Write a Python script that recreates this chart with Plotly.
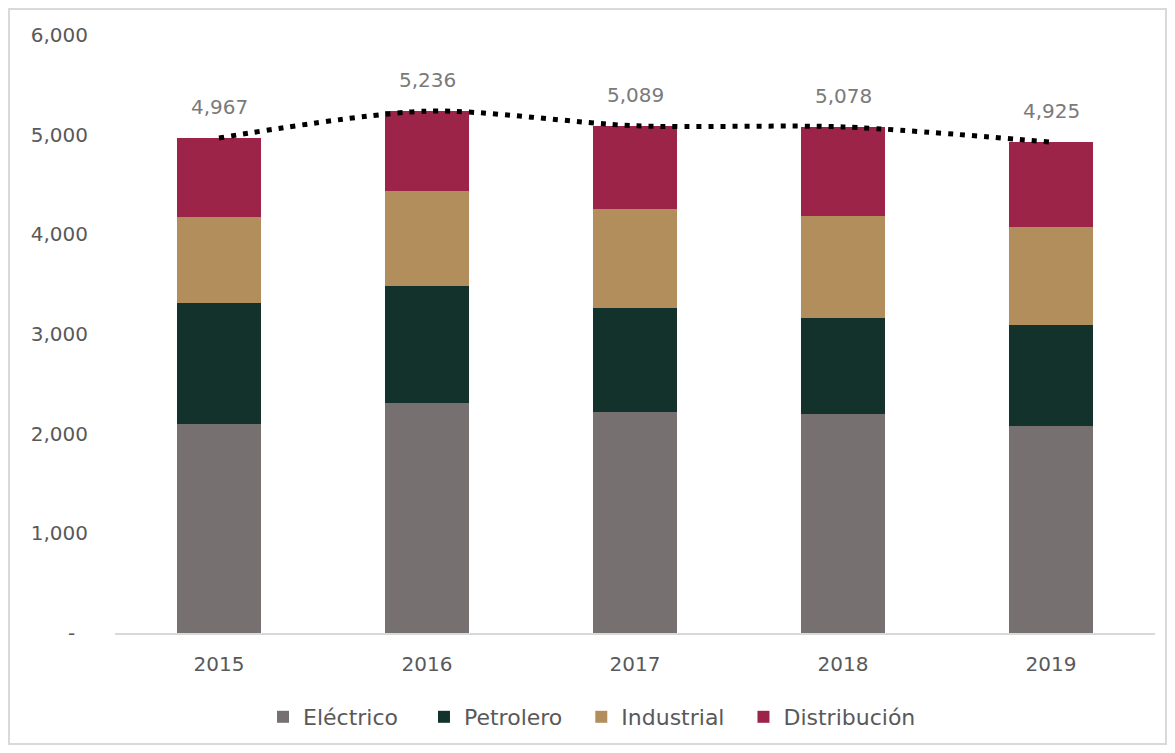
import plotly.graph_objects as go

years = ["2015", "2016", "2017", "2018", "2019"]
electrico = [2096, 2307, 2217, 2197, 2076]
petrolero = [1214, 1173, 1043, 962, 1013]
industrial = [862, 953, 993, 1023, 983]
distribucion = [795, 803, 836, 896, 853]
totales = [4967, 5236, 5089, 5078, 4925]

series = [
    ("Eléctrico", electrico, "#767170", 3),
    ("Petrolero", petrolero, "#13322B", 2),
    ("Industrial", industrial, "#B38E5D", 2),
    ("Distribución", distribucion, "#9D2449", 0),
]

W, H = 1159, 737
ml, mr, mt, mb = 107, 12, 27, 112
font_family = "DejaVu Sans, Open Sans, sans-serif"
gray = "#595959"
label_gray = "#7A7A7A"

fig = go.Figure()
for name, vals, col, pad in series:
    fig.add_trace(go.Bar(x=years, y=vals, name=name + "\u00a0" * pad,
                         marker=dict(color=col, line=dict(width=0))))

fig.add_trace(go.Scatter(x=years, y=totales, mode="lines", showlegend=False,
                         line=dict(color="black", width=5, dash="5px,7px", shape="spline", smoothing=0.8),
                         hoverinfo="skip"))

for i, t in enumerate(totales):
    fig.add_annotation(x=i, y=t, text=f"{t:,}", showarrow=False, yshift=31,
                       font=dict(size=20, color=label_gray, family=font_family))

pw = W - ml - mr
ph = H - mt - mb
x0 = (1 - ml) / pw
x1 = (W - 1 - ml) / pw
y1 = 1 + (mt - 1) / ph
y0 = -(mb - 1) / ph
fig.add_shape(type="rect", xref="paper", yref="paper", x0=x0, x1=x1, y0=y0, y1=y1,
              line=dict(color="#D9D9D9", width=2), layer="below")

fig.update_layout(
    width=W, height=H,
    margin=dict(l=ml, r=mr, t=mt, b=mb, autoexpand=False),
    barmode="stack", bargap=0.596,
    plot_bgcolor="white", paper_bgcolor="white",
    font=dict(family=font_family, color=gray, size=20),
    legend=dict(orientation="h", x=(263 - 115) / pw, xanchor="left", y=-(709 - (H - mb)) / ph,
                yanchor="middle",
                font=dict(size=22, color=gray), traceorder="normal", itemwidth=30),
    xaxis=dict(type="category", range=[-0.5, len(years) - 0.5], showgrid=False, showline=True,
               linecolor="#D9D9D9", linewidth=2,
               ticks="", tickfont=dict(size=20, color=gray), ticklabelstandoff=12),
    yaxis=dict(range=[0, 6000], tickvals=[0, 1000, 2000, 3000, 4000, 5000, 6000],
               ticktext=["-  ", "1,000", "2,000", "3,000", "4,000", "5,000", "6,000"],
               showgrid=False, zeroline=False, showline=False, ticks="",
               tickfont=dict(size=20, color=gray), ticklabelstandoff=26),
)

fig.write_html("out.html")
